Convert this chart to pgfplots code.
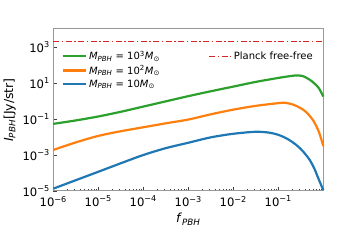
\documentclass[border=0pt]{standalone}
\usepackage{fontspec}
\setmainfont{DejaVu Sans}
\usepackage{pgfplots}
\pgfplotsset{compat=1.18}
\definecolor{tabgreen}{HTML}{2CA02C}
\definecolor{taborange}{HTML}{FF7F0E}
\definecolor{tabblue}{HTML}{1F77B4}
\definecolor{tabred}{RGB}{214,39,40}
\definecolor{spinegray}{HTML}{999999}
\begin{document}
\begin{tikzpicture}
\useasboundingbox (0,0) rectangle (360pt,240pt);
\begin{axis}[
  at={(53.3pt,49pt)}, anchor=south west,
  width=270pt, height=162pt, scale only axis, clip=false,
  xmode=log, ymode=log, xmin=1e-6, xmax=1, ymin=1e-5, ymax=1e4,
  axis line style={spinegray, line width=1pt},
  tick style={black!75, line width=0.6pt},
  tick align=inside, xtick pos=bottom, ytick pos=left,
  major tick length=3.5pt, minor tick length=2pt,
  xtick={1e-6,1e-5,1e-4,1e-3,1e-2,1e-1},
  xticklabels={10\textsuperscript{−6},10\textsuperscript{−5},10\textsuperscript{−4},10\textsuperscript{−3},10\textsuperscript{−2},10\textsuperscript{−1}},
  minor xtick={2e-6,3e-6,4e-6,5e-6,6e-6,7e-6,8e-6,9e-6,
    2e-5,3e-5,4e-5,5e-5,6e-5,7e-5,8e-5,9e-5,
    2e-4,3e-4,4e-4,5e-4,6e-4,7e-4,8e-4,9e-4,
    2e-3,3e-3,4e-3,5e-3,6e-3,7e-3,8e-3,9e-3,
    2e-2,3e-2,4e-2,5e-2,6e-2,7e-2,8e-2,9e-2,
    0.2,0.3,0.4,0.5,0.6,0.7,0.8,0.9},
  ytick={1e-5,1e-3,1e-1,1e1,1e3},
  yticklabels={10\textsuperscript{−5},10\textsuperscript{−3},10\textsuperscript{−1},10\textsuperscript{1},10\textsuperscript{3}},
  minor ytick={},
  ticklabel style={font=\fontsize{11.6}{13}\selectfont},
  xticklabel style={yshift=-1.5pt},
  xlabel={\textit{f}\textsubscript{\textit{PBH}}},
  ylabel={\textit{I}\textsubscript{\textit{PBH}}[Jy/str]},
  label style={font=\fontsize{12.5}{14}\selectfont},
  legend style={draw=none, fill=none, at={(0.02,0.89)}, anchor=north west,
    font=\fontsize{10}{12}\selectfont, row sep=0pt},
  legend cell align=left,
  legend image code/.code={\draw[#1] (0pt,0pt) -- (23pt,0pt);},
]
\addplot[tabgreen, line width=2.2pt, smooth] coordinates {
(1e-6,0.0537) (3.16e-6,0.0832) (1e-5,0.138) (3.16e-5,0.251) (1e-4,0.490)
(3.16e-4,0.955) (1e-3,1.86) (3.16e-3,3.47) (1e-2,6.31) (3.16e-2,11.5)
(0.1,19.1) (0.158,22.9) (0.251,26.3) (0.355,24.0) (0.501,15.1)
(0.631,9.55) (0.794,5.25) (1,1.78)};
\addlegendentry{\textit{M}\textsubscript{\textit{PBH}} = 10\textsuperscript{3}\textit{M}\textsubscript{⊙}}
\addplot[taborange, line width=2.2pt, smooth] coordinates {
(1e-6,1.91e-3) (3.16e-6,5.01e-3) (1e-5,0.0115) (3.16e-5,0.0209) (1e-4,0.0347)
(3.16e-4,0.0575) (1e-3,0.0933) (3.16e-3,0.182) (1e-2,0.331) (3.16e-2,0.537)
(0.1,0.759) (0.141,0.794) (0.214,0.631) (0.316,0.398) (0.427,0.229)
(0.603,0.0794) (0.794,0.0200) (1,3.16e-3)};
\addlegendentry{\textit{M}\textsubscript{\textit{PBH}} = 10\textsuperscript{2}\textit{M}\textsubscript{⊙}}
\addplot[tabblue, line width=2.2pt, smooth] coordinates {
(1e-6,1.35e-5) (3.16e-6,3.98e-5) (1e-5,1.17e-4) (3.16e-5,3.47e-4) (1e-4,1e-3)
(3.16e-4,2.40e-3) (1e-3,4.79e-3) (3.16e-3,9.55e-3) (1e-2,0.0151) (3.16e-2,0.0195)
(0.0631,0.0174) (0.1,0.0132) (0.158,7.94e-3) (0.251,3.63e-3) (0.355,1.58e-3)
(0.501,5.25e-4) (0.631,1.78e-4) (0.776,5.01e-5) (1,1.12e-5)};
\addlegendentry{\textit{M}\textsubscript{\textit{PBH}} = 10\textit{M}\textsubscript{⊙}}
\addplot[tabred, line width=1.2pt, dash pattern=on 6pt off 2.5pt on 1.5pt off 2.5pt, forget plot] coordinates {(1e-6,2000) (1e-3,2000) (1,2000)};
\end{axis}
\begin{axis}[
  at={(53.3pt,49pt)}, anchor=south west,
  width=270pt, height=162pt, scale only axis,
  xmode=log, ymode=log, xmin=1e-6, xmax=1, ymin=1e-5, ymax=1e4,
  hide axis,
  legend style={draw=none, fill=none, at={(0.98,0.885)}, anchor=north east,
    font=\fontsize{10}{12}\selectfont},
  legend image code/.code={\draw[#1] (0pt,0pt) -- (22pt,0pt);},
]
\addlegendimage{tabred, line width=1.2pt, dash pattern=on 6pt off 2.5pt on 1.5pt off 2.5pt}
\addlegendentry{Planck free-free}
\end{axis}
\end{tikzpicture}
\end{document}
